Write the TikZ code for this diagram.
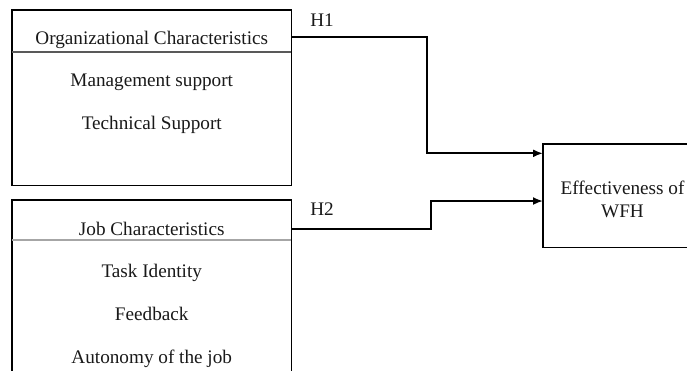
\documentclass[tikz,border=0pt]{standalone}
\usepackage{fontspec}
\setmainfont{Liberation Serif}
\usetikzlibrary{arrows.meta,calc}
\begin{document}
\begin{tikzpicture}[x=0.75pt,y=-0.75pt,
  font=\fontsize{14.4}{17}\selectfont,
  box/.style={draw=black, line width=1.4pt, inner sep=0pt, outer sep=0pt},
  lbl/.style={anchor=base, inner sep=0pt, text=black!90},
  conn/.style={draw=black, line width=1.4pt, -{Latex[length=7.5pt,width=6pt]}},
  link/.style={draw=black, line width=1.4pt},
  divA/.style={draw=black!65, line width=1pt},
  divB/.style={draw=black!35, line width=1pt}]
\useasboundingbox (0,0) rectangle (687,371);
\clip (0,0) rectangle (687,371);
% boxes
\node[box, minimum width=209.6pt, minimum height=131.6pt] (box1) at (151.75,97.75) {};
\node[box, minimum width=209.6pt, minimum height=150pt] (box2) at (151.75,300) {};
\node[box, minimum width=119.25pt, minimum height=77.6pt] (wfh) at (622.5,195.75) {};
% dividers
\draw[divA] ($(box1.north west)+(0,42)$) -- ($(box1.north east)+(0,42)$);
\draw[divB] ($(box2.north west)+(0,40)$) -- ($(box2.north east)+(0,40)$);
% texts
\node[lbl] (t1) at (151.75,45) {Organizational Characteristics};
\node[lbl] (m1) at (151.75,86) {Management support};
\node[lbl] (m2) at (151.75,129) {Technical Support};
\node[lbl] (t2) at (151.75,235) {Job Characteristics};
\node[lbl] (j1) at (151.75,277) {Task Identity};
\node[lbl] (j2) at (151.75,320) {Feedback};
\node[lbl] (j3) at (151.75,363) {Autonomy of the job};
\node[lbl] (e1) at (622.5,194) {Effectiveness of};
\node[lbl] (e2) at (622.5,217) {WFH};
\node[lbl] (h1) at (322,26.7) {H1};
\node[lbl] (h2) at (322,215) {H2};
% connectors
\coordinate (s1) at ($(box1.north east)+(0,27.3)$);
\coordinate (a1) at ($(wfh.north west)+(0,9.3)$);
\coordinate (k1) at (426.7,0);
\coordinate (s2) at ($(box2.north east)+(0,29.3)$);
\coordinate (a2) at ($(wfh.north west)+(0,57)$);
\coordinate (k2) at (430.7,0);
\draw[conn] (s1) -- (s1 -| k1) -- (k1 |- a1) -- (a1);
\draw[conn] (s2) -- (s2 -| k2) -- (k2 |- a2) -- (a2);
\end{tikzpicture}
\end{document}
